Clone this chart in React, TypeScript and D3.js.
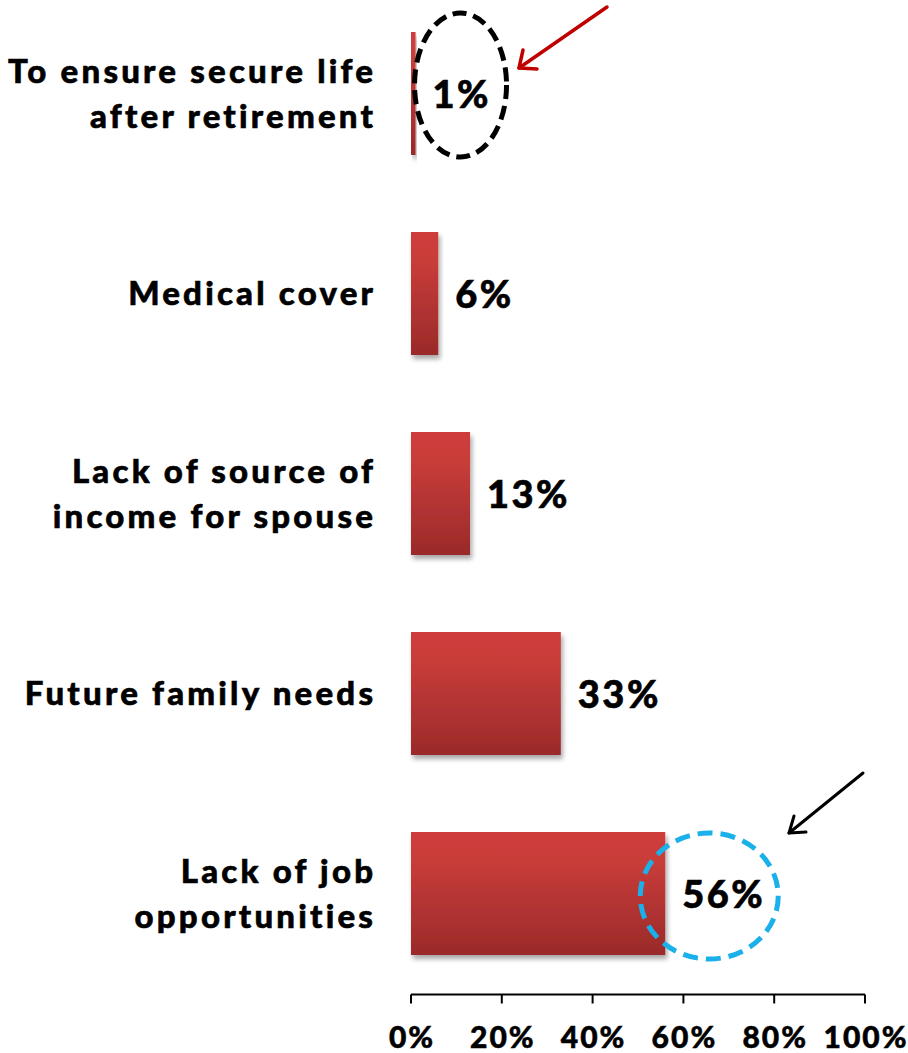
import React from "react";
import * as d3 from "d3";

const categories: string[][] = [
  ["To ensure secure life", "after retirement"],
  ["Medical cover"],
  ["Lack of source of", "income for spouse"],
  ["Future family needs"],
  ["Lack of job", "opportunities"],
];
const values: number[] = [1, 6, 13, 33, 56];
const tickValues: number[] = [0, 20, 40, 60, 80, 100];

const W = 908;
const H = 1053;
const FONT = "Lato, 'Open Sans', sans-serif";

export default function App() {
  const x = d3.scaleLinear().domain([0, 100]).range([411, 865]);
  const y = d3
    .scaleBand<number>()
    .domain(d3.range(values.length))
    .range([-6.5, 993.5])
    .paddingInner(0.385)
    .paddingOuter(0.1925);
  const bw = y.bandwidth();
  const axisY = 994.5;

  const c0 = (y(0) as number) + bw / 2;
  const c4 = (y(4) as number) + bw / 2;

  return (
    <svg
      width={W}
      height={H}
      style={{ position: "absolute", left: 0, top: 0, display: "block", background: "#fff" }}
      fontFamily={FONT}
    >
      <defs>
        <linearGradient id="barGrad" x1="0" y1="0" x2="0" y2="1">
          <stop offset="0" stopColor="#cf3e3b" />
          <stop offset="0.25" stopColor="#c83c39" />
          <stop offset="1" stopColor="#9a2a29" />
        </linearGradient>
        <filter id="shadow" x="-20%" y="-20%" width="140%" height="150%">
          <feGaussianBlur in="SourceAlpha" stdDeviation="2.5" />
          <feOffset dx="2" dy="4" result="ob" />
          <feComponentTransfer>
            <feFuncA type="linear" slope="0.35" />
          </feComponentTransfer>
          <feMerge>
            <feMergeNode />
            <feMergeNode in="SourceGraphic" />
          </feMerge>
        </filter>
      </defs>

      {values.map((v, i) => {
        const top = y(i) as number;
        const cy = top + bw / 2;
        return (
          <g key={i}>
            <rect
              x={x(0)}
              y={top}
              width={x(v) - x(0)}
              height={bw}
              fill="url(#barGrad)"
              filter="url(#shadow)"
            />
            <text
              x={x(v) + 17}
              y={cy + 14}
              fontSize={38}
              fontWeight={900}
              letterSpacing={2.5}
              stroke="#000"
              strokeWidth={0.6}
              fill="#000"
            >
              {v}%
            </text>
            {categories[i].map((line, j) => {
              const n = categories[i].length;
              const off = (j - (n - 1) / 2) * 45;
              return (
                <text
                  key={j}
                  x={373 + 3.2}
                  y={cy + off + 11.5}
                  textAnchor="end"
                  fontSize={33}
                  fontWeight={900}
                  letterSpacing={3.2}
                  stroke="#000"
                  strokeWidth={0.6}
                  fill="#000"
                >
                  {line}
                </text>
              );
            })}
          </g>
        );
      })}

      {/* axis */}
      <line x1={x(0)} x2={x(100)} y1={axisY} y2={axisY} stroke="#000" strokeWidth={2} />
      {tickValues.map((t) => (
        <g key={t}>
          <line x1={x(t)} x2={x(t)} y1={axisY} y2={axisY + 9} stroke="#000" strokeWidth={2} />
          <text
            x={x(t) + 1}
            y={1048}
            textAnchor="middle"
            fontSize={30}
            fontWeight={900}
            letterSpacing={2}
            stroke="#000"
            strokeWidth={0.5}
            fill="#000"
          >
            {t}%
          </text>
        </g>
      ))}

      {/* annotations */}
      <ellipse
        cx={x(values[0]) + 45}
        cy={c0 - 8.5}
        rx={46}
        ry={72}
        fill="none"
        stroke="#000"
        strokeWidth={5}
        strokeDasharray="14 7"
      />
      <g stroke="#c00000" strokeWidth={3.5} fill="none" strokeLinecap="round" strokeLinejoin="round">
        <line x1={607} y1={7} x2={519} y2={68} />
        <polyline points="523,50 519,68 537,69" />
      </g>

      <ellipse
        cx={x(values[4]) + 44}
        cy={c4 + 2.5}
        rx={69}
        ry={63}
        fill="none"
        stroke="#1ab0ea"
        strokeWidth={5}
        strokeDasharray="15 8"
      />
      <g stroke="#000" strokeWidth={3} fill="none" strokeLinecap="round" strokeLinejoin="round">
        <line x1={863} y1={773} x2={789} y2={833} />
        <polyline points="794,816 789,833 806,832" />
      </g>
    </svg>
  );
}
